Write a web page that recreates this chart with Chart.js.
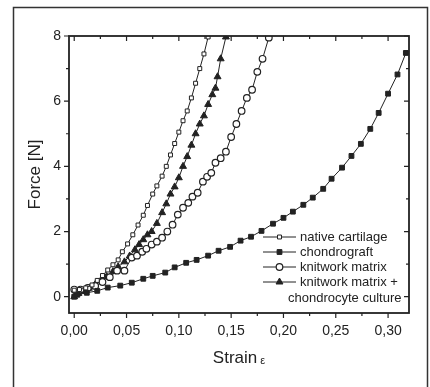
<!DOCTYPE html>
<html>
<head>
<meta charset="utf-8">
<script src="https://cdn.jsdelivr.net/npm/chart.js@4/dist/chart.umd.min.js"></script>
<style>
html,body{margin:0;padding:0;background:#fff;}
canvas{display:block;}
</style>
</head>
<body>
<canvas id="c" width="430" height="387"></canvas>
<script>
// ---- data (strain, force [N]) ----
const nativeStrain = [0,0.005,0.011,0.017,0.022,0.027,0.032,0.037,0.042,0.046,0.051,0.056,0.061,0.066,0.070,0.075,0.079,0.084,0.088,0.092,0.096,0.100,0.104,0.108,0.112,0.116,0.120,0.124,0.128];
const nativeForce  = [0.20,0.22,0.27,0.36,0.50,0.65,0.82,0.98,1.13,1.38,1.62,1.90,2.20,2.50,2.80,3.15,3.40,3.70,4.00,4.35,4.70,5.05,5.40,5.70,6.10,6.55,7.00,7.45,7.97];

const chondroStrain = [0,0.003,0.012,0.022,0.032,0.044,0.055,0.066,0.075,0.087,0.096,0.107,0.117,0.128,0.138,0.149,0.159,0.169,0.179,0.190,0.200,0.209,0.219,0.228,0.238,0.246,0.256,0.265,0.274,0.283,0.291,0.300,0.309,0.317];
const chondroForce  = [0,0.06,0.12,0.18,0.28,0.34,0.43,0.55,0.64,0.74,0.90,1.04,1.13,1.26,1.41,1.53,1.72,1.84,2.02,2.24,2.42,2.61,2.82,3.04,3.31,3.62,3.96,4.32,4.69,5.15,5.64,6.23,6.82,7.48];

const knitStrain = [0,0.006,0.013,0.020,0.027,0.034,0.041,0.048,0.055,0.060,0.065,0.069,0.074,0.079,0.084,0.089,0.094,0.099,0.104,0.109,0.113,0.118,0.123,0.127,0.131,0.135,0.140,0.145,0.150,0.155,0.160,0.165,0.170,0.175,0.180,0.186];
const knitForce  = [0.22,0.22,0.27,0.33,0.45,0.60,0.80,0.80,1.20,1.26,1.38,1.47,1.60,1.69,1.81,2.00,2.21,2.52,2.73,2.88,3.07,3.19,3.53,3.68,3.80,4.11,4.25,4.45,4.90,5.30,5.70,6.10,6.35,6.90,7.30,7.95];

const cultureStrain = [0,0.004,0.009,0.014,0.020,0.026,0.031,0.037,0.042,0.048,0.053,0.058,0.062,0.066,0.070,0.074,0.079,0.084,0.088,0.092,0.096,0.100,0.104,0.108,0.112,0.116,0.120,0.124,0.128,0.132,0.135,0.137,0.140,0.145];
const cultureForce  = [0,0.10,0.17,0.26,0.37,0.52,0.62,0.77,0.92,1.07,1.25,1.44,1.60,1.75,1.90,2.00,2.25,2.58,2.85,3.15,3.37,3.65,4.00,4.30,4.65,5.00,5.30,5.55,5.90,6.20,6.40,6.75,7.30,7.97];

const seriesNames = ["native cartilage","chondrograft","knitwork matrix","knitwork matrix +"];
const legendExtraLine = "chondrocyte culture";
const xTickValues = [0,0.05,0.10,0.15,0.20,0.25,0.30];
const xMinorValues = [0.025,0.075,0.125,0.175,0.225,0.275];
const yTickValues = [0,2,4,6,8];
const yMinorValues = [1,3,5,7];
const xTitle = "Strain";
const xTitleSymbol = "ε";
const yTitle = "Force [N]";

const INK = '#222';
const FONT = '"Liberation Sans", Arial, sans-serif';

function pts(xs, ys){ return xs.map((x,i)=>({x:x, y:ys[i]})); }

const datasets = [
  {label:seriesNames[0], data:pts(nativeStrain,nativeForce), pointStyle:'rect', pointRadius:2.8, backgroundColor:'#fff', borderColor:INK, pointBorderWidth:1},
  {label:seriesNames[1], data:pts(chondroStrain,chondroForce), pointStyle:'rect', pointRadius:3.4, backgroundColor:INK, borderColor:INK, pointBorderWidth:1},
  {label:seriesNames[2], data:pts(knitStrain,knitForce), pointStyle:'circle', pointRadius:3.3, backgroundColor:'#fff', borderColor:INK, pointBorderWidth:1.2},
  {label:seriesNames[3], data:pts(cultureStrain,cultureForce), pointStyle:'triangle', pointRadius:4, backgroundColor:INK, borderColor:INK, pointBorderWidth:1}
].map(d=>Object.assign(d,{showLine:true, borderWidth:1, tension:0, pointBackgroundColor:d.backgroundColor, pointBorderColor:INK}));

const decorations = {
  id:'decorations',
  beforeDraw(chart){
    const ctx = chart.ctx;
    ctx.save();
    ctx.strokeStyle = '#333';
    ctx.lineWidth = 1.5;
    ctx.beginPath();
    ctx.moveTo(13.5, 387); ctx.lineTo(13.5, 7.5); ctx.lineTo(427.5, 7.5); ctx.lineTo(427.5, 387);
    ctx.stroke();
    ctx.restore();
  },
  afterDraw(chart){
    const ctx = chart.ctx;
    const a = chart.chartArea;
    const xs = chart.scales.x, ys = chart.scales.y;
    ctx.save();
    ctx.strokeStyle = INK;
    // frame
    ctx.lineWidth = 1.8;
    ctx.strokeRect(a.left, a.top, a.right - a.left, a.bottom - a.top);
    ctx.lineWidth = 1.2;
    ctx.beginPath();
    xTickValues.forEach(v=>{
      const p = xs.getPixelForValue(v);
      ctx.moveTo(p, a.bottom); ctx.lineTo(p, a.bottom + 5);
      ctx.moveTo(p, a.top); ctx.lineTo(p, a.top + 5);
    });
    xMinorValues.forEach(v=>{
      const p = xs.getPixelForValue(v);
      ctx.moveTo(p, a.bottom); ctx.lineTo(p, a.bottom + 3);
      ctx.moveTo(p, a.top); ctx.lineTo(p, a.top + 3);
    });
    yTickValues.forEach(v=>{
      const p = ys.getPixelForValue(v);
      ctx.moveTo(a.left, p); ctx.lineTo(a.left - 5, p);
      ctx.moveTo(a.right, p); ctx.lineTo(a.right - 5, p);
    });
    yMinorValues.forEach(v=>{
      const p = ys.getPixelForValue(v);
      ctx.moveTo(a.left, p); ctx.lineTo(a.left - 3, p);
      ctx.moveTo(a.right, p); ctx.lineTo(a.right - 3, p);
    });
    ctx.stroke();

    // axis titles
    ctx.fillStyle = INK;
    ctx.font = '17px ' + FONT;
    ctx.textAlign = 'center';
    ctx.textBaseline = 'middle';
    ctx.save();
    ctx.translate(35, (a.top + a.bottom) / 2);
    ctx.rotate(-Math.PI/2);
    ctx.fillText(yTitle, 0, 0);
    ctx.restore();
    const tw = ctx.measureText(xTitle).width;
    ctx.font = '11px ' + FONT;
    const sw = ctx.measureText(xTitleSymbol).width;
    const cx = (a.left + a.right) / 2;
    const start = cx - (tw + 3 + sw) / 2;
    ctx.textAlign = 'left';
    ctx.font = '17px ' + FONT;
    ctx.fillText(xTitle, start, 358);
    ctx.font = '11px ' + FONT;
    ctx.fillText(xTitleSymbol, start + tw + 3, 361);

    // legend
    const lx0 = 263, lx1 = 296, tx = 300;
    const rows = [237, 252, 267, 282];
    ctx.font = '13px ' + FONT;
    ctx.textBaseline = 'middle';
    ctx.textAlign = 'left';
    chart.data.datasets.forEach((d, i) => {
      const y = rows[i];
      ctx.strokeStyle = INK;
      ctx.lineWidth = 1;
      ctx.beginPath(); ctx.moveTo(lx0, y); ctx.lineTo(lx1, y); ctx.stroke();
      ctx.fillStyle = d.pointBackgroundColor;
      ctx.strokeStyle = INK;
      ctx.lineWidth = d.pointBorderWidth;
      Chart.helpers.drawPoint(ctx, {pointStyle:d.pointStyle, radius:d.pointRadius, rotation:0, borderWidth:d.pointBorderWidth}, (lx0 + lx1)/2, y);
      ctx.fillStyle = INK;
      ctx.fillText(d.label, tx, y);
    });
    ctx.fillText(legendExtraLine, 288, 298);
    ctx.restore();
  }
};

new Chart(document.getElementById('c'), {
  type:'scatter',
  data:{datasets:datasets},
  options:{
    responsive:false,
    animation:false,
    layout:{padding:{left:0, top:36, right:21, bottom:0}},
    plugins:{legend:{display:false}, tooltip:{enabled:false}},
    scales:{
      x:{
        type:'linear', min:-0.005, max:0.32,
        afterFit(s){ s.height = 74; },
        afterBuildTicks(s){ s.ticks = xTickValues.map(v=>({value:v})); },
        grid:{display:true, drawOnChartArea:false, drawTicks:false},
        border:{display:false},
        ticks:{padding:10, color:INK, font:{family:FONT, size:14}, maxRotation:0, autoSkip:false,
          callback:(v)=>v.toFixed(2).replace('.', ',')}
      },
      y:{
        type:'linear', min:-0.5, max:8,
        afterFit(s){ s.width = 69; },
        afterBuildTicks(s){ s.ticks = yTickValues.map(v=>({value:v})); },
        grid:{display:true, drawOnChartArea:false, drawTicks:false},
        border:{display:false},
        ticks:{padding:8, color:INK, font:{family:FONT, size:14}, autoSkip:false,
          callback:(v)=>String(v)}
      }
    }
  },
  plugins:[decorations]
});
</script>
</body>
</html>
